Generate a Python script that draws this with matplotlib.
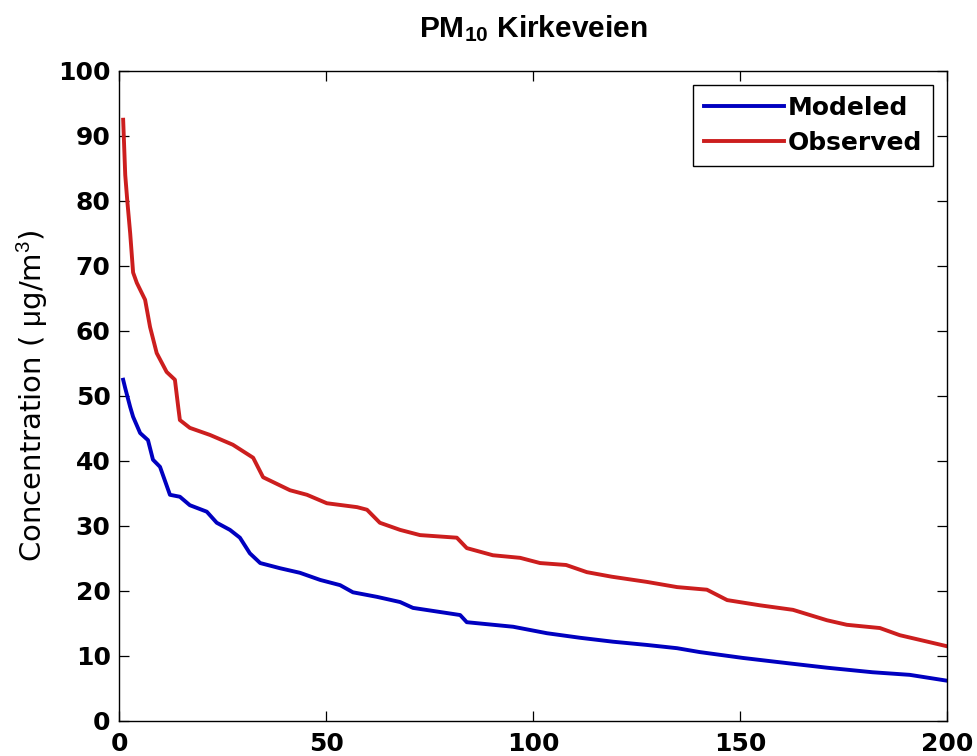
import numpy as np
import matplotlib
matplotlib.use('Agg')
import matplotlib.pyplot as plt

plt.rcParams['mathtext.fontset'] = 'custom'
plt.rcParams['mathtext.rm'] = 'Liberation Sans'
plt.rcParams['mathtext.it'] = 'Liberation Sans:italic'
plt.rcParams['mathtext.bf'] = 'Liberation Sans:bold'

# Observed (red) duration curve
obs_x = [1, 1.5, 2, 2.7, 3.4, 4.3, 6.3, 7.5, 9.1, 11.5, 13.5, 14.3, 14.7, 17.1, 22,
         27.5, 32.4, 34.8, 41.3, 45.4, 50.2, 57.5, 59.9, 63, 67.9, 72.7, 81.6, 84,
         90.3, 96.9, 101.7, 108, 113, 119, 127.5, 134.8, 142, 146.9, 154.8, 162.8,
         171, 175.8, 183.8, 188.6, 200]
obs_y = [92.5, 84, 80, 75, 69, 67.4, 64.8, 60.6, 56.6, 53.7, 52.5, 48.3, 46.3, 45.1, 44,
         42.5, 40.5, 37.5, 35.5, 34.8, 33.5, 32.9, 32.5, 30.5, 29.4, 28.6, 28.2, 26.6,
         25.5, 25.1, 24.3, 24.0, 22.9, 22.2, 21.4, 20.6, 20.2, 18.6, 17.8, 17.1,
         15.5, 14.8, 14.3, 13.2, 11.5]

# Modeled (blue)
mod_x = [1, 1.5, 2.7, 3.4, 5.1, 7, 8.2, 9.9, 12.3, 14.7, 17.1, 21.2, 23.6, 26.8, 29.2,
         31.6, 34.1, 38.9, 43.7, 48.6, 53.4, 56.5, 62.3, 67.9, 71, 82.4, 84, 95.2,
         103.4, 111.4, 119.3, 127.5, 134.8, 140.3, 150.7, 161.4, 171, 182, 191, 199, 200]
mod_y = [52.5, 51.2, 48.3, 46.8, 44.3, 43.2, 40.2, 39.1, 34.8, 34.5, 33.2, 32.2, 30.5, 29.4, 28.2,
         25.8, 24.3, 23.5, 22.8, 21.7, 20.9, 19.8, 19.1, 18.3, 17.4, 16.3, 15.2, 14.5,
         13.5, 12.8, 12.2, 11.7, 11.2, 10.6, 9.7, 8.9, 8.2, 7.5, 7.1, 6.3, 6.2]

x_ticks = [0, 50, 100, 150, 200]
y_ticks = list(range(0, 101, 10))

fig = plt.figure(figsize=(9.78, 7.56), dpi=100)
ax = fig.add_axes([0.1217, 0.0463, 0.8466, 0.8598])

ax.plot(mod_x, mod_y, '-', color='#0000c0', lw=2.8, label='Modeled')
ax.plot(obs_x, obs_y, '-', color='#cc1e1e', lw=2.8, label='Observed')

ax.set_xlim(0, 200)
ax.set_ylim(0, 100)
ax.set_xticks(x_ticks)
ax.set_yticks(y_ticks)
ax.tick_params(direction='in', length=7, width=0.9, top=True, right=True,
               labelsize=18)
ax.tick_params(axis='x', pad=8)
ax.tick_params(axis='y', pad=6)
for lab in ax.get_xticklabels() + ax.get_yticklabels():
    lab.set_fontweight('bold')
    lab.set_family('DejaVu Sans')
for sp in ax.spines.values():
    sp.set_linewidth(1.0)

ax.set_title(r'PM$_{\mathbf{10}}$ Kirkeveien', fontsize=21.5, fontweight='bold',
             family='Liberation Sans', pad=24)
ax.set_ylabel(r'Concentration ( $\mathrm{\mu}$g/m$^3$)', fontsize=21, labelpad=6)

leg = ax.legend(loc='upper right', fontsize=18, frameon=True, fancybox=False,
                framealpha=1, edgecolor='black', handlelength=3.2, handletextpad=0.15,
                borderpad=0.45, labelspacing=0.45, borderaxespad=0.55)
leg.get_frame().set_linewidth(1.0)
for t in leg.get_texts():
    t.set_fontweight('bold')

fig.savefig('out.png', dpi=100)
